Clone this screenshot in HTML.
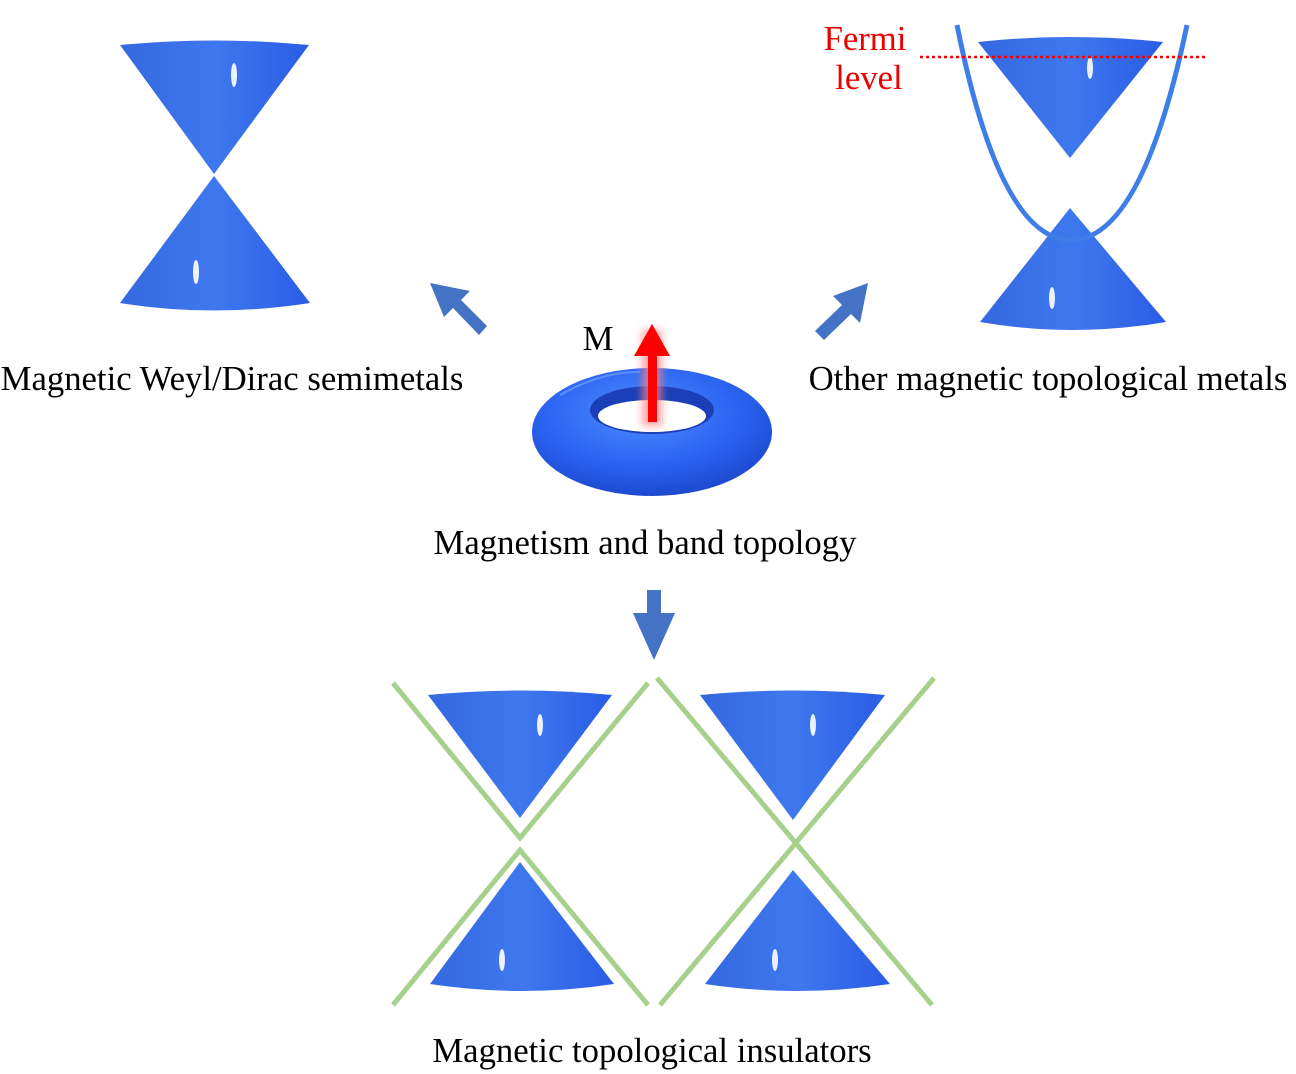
<!DOCTYPE html>
<html><head><meta charset="utf-8"><style>
html,body{margin:0;padding:0;background:#fff;}
svg{display:block}
text{font-family:"Liberation Serif",serif;}
</style></head><body>
<svg width="1296" height="1074" viewBox="0 0 1296 1074" xmlns="http://www.w3.org/2000/svg">
<defs>
<linearGradient id="cg" x1="0" x2="1" y1="0" y2="0">
<stop offset="0" stop-color="#3468e0"/><stop offset="0.5" stop-color="#3f78ee"/><stop offset="1" stop-color="#2a5ce6"/>
</linearGradient>
<radialGradient id="tg" cx="0.45" cy="0.35" r="0.7">
<stop offset="0" stop-color="#4f8cff"/><stop offset="0.6" stop-color="#2a62f0"/><stop offset="1" stop-color="#1a45c8"/>
</radialGradient>
<filter id="gl" x="-50%" y="-50%" width="200%" height="200%"><feGaussianBlur stdDeviation="4"/></filter>
</defs>

<path d="M120,45 Q214,36 309,45 L214,174 Z" fill="url(#cg)"/>
<path d="M214,176 L310,303 Q214,318 120,303 Z" fill="url(#cg)"/>
<ellipse cx="234" cy="75" rx="3" ry="12" fill="#fff" opacity="0.9"/>
<ellipse cx="196" cy="272" rx="3" ry="12" fill="#fff" opacity="0.9"/>

<path d="M978,42 Q1070,32 1163,42 L1070,158 Z" fill="url(#cg)"/>
<path d="M1070,208 L1166,322 Q1072,338 980,322 Z" fill="url(#cg)"/>
<ellipse cx="1090" cy="68" rx="3" ry="11" fill="#fff" opacity="0.9"/>
<ellipse cx="1052" cy="298" rx="3" ry="11" fill="#fff" opacity="0.9"/>
<path d="M957,25 Q1000,240 1071,240 Q1142,240 1187,25" fill="none" stroke="#3f7ee8" stroke-width="5"/>
<line x1="920" y1="57" x2="1208" y2="57" stroke="#e00" stroke-width="2.5" stroke-dasharray="3,3"/>
<text x="865" y="50" font-size="34.7" fill="#e00" text-anchor="middle">Fermi</text>
<text x="869" y="89" font-size="34.7" fill="#e00" text-anchor="middle">level</text>

<g fill="#4472c4">
<polygon points="430,283 470,291 461,300 487,326 479,335 453,308 444,317"/>
<polygon points="868,283 860,323 851,314 824,340 815,331 842,305 833,296"/>
<polygon points="647,590 661,590 661,613 675,613 654,660 633,613 647,613"/>
</g>

<ellipse cx="652" cy="432" rx="120" ry="64" fill="url(#tg)"/>
<ellipse cx="652" cy="410" rx="62" ry="24" fill="#1b3fb8"/>
<ellipse cx="652" cy="416" rx="54" ry="16" fill="#fff"/>
<path d="M560,395 Q600,372 640,372" stroke="#7aa8ff" stroke-width="2" fill="none" opacity="0.6"/>
<rect x="642" y="330" width="20" height="96" fill="#ff8080" filter="url(#gl)" opacity="0.7"/>
<rect x="648" y="352" width="9" height="70" fill="#f00"/>
<polygon points="634,356 652,324 670,356" fill="#f00"/>
<text x="598" y="350" font-size="34.7" text-anchor="middle">M</text>

<text x="232" y="390" font-size="34.7" text-anchor="middle">Magnetic Weyl/Dirac semimetals</text>
<text x="1048" y="390" font-size="34.7" text-anchor="middle">Other magnetic topological metals</text>
<text x="645" y="554" font-size="34.7" text-anchor="middle">Magnetism and band topology</text>
<text x="652" y="1062" font-size="34.7" text-anchor="middle">Magnetic topological insulators</text>

<path d="M428,695 Q520,686 612,695 L520,818 Z" fill="url(#cg)"/>
<path d="M520,862 L614,984 Q522,998 430,984 Z" fill="url(#cg)"/>
<path d="M700,695 Q793,686 885,695 L793,820 Z" fill="url(#cg)"/>
<path d="M793,870 L890,984 Q797,998 705,984 Z" fill="url(#cg)"/>
<ellipse cx="540" cy="725" rx="3" ry="11" fill="#fff" opacity="0.9"/>
<ellipse cx="502" cy="960" rx="3" ry="11" fill="#fff" opacity="0.9"/>
<ellipse cx="813" cy="725" rx="3" ry="11" fill="#fff" opacity="0.9"/>
<ellipse cx="775" cy="960" rx="3" ry="11" fill="#fff" opacity="0.9"/>

<g stroke="#a6d18c" stroke-width="5" fill="none">
<polyline points="393,683 520,838 648,683"/>
<polyline points="393,1005 520,850 648,1005"/>
<line x1="657" y1="678" x2="932" y2="1005"/>
<line x1="934" y1="678" x2="660" y2="1005"/>
</g>
</svg>
</body></html>
